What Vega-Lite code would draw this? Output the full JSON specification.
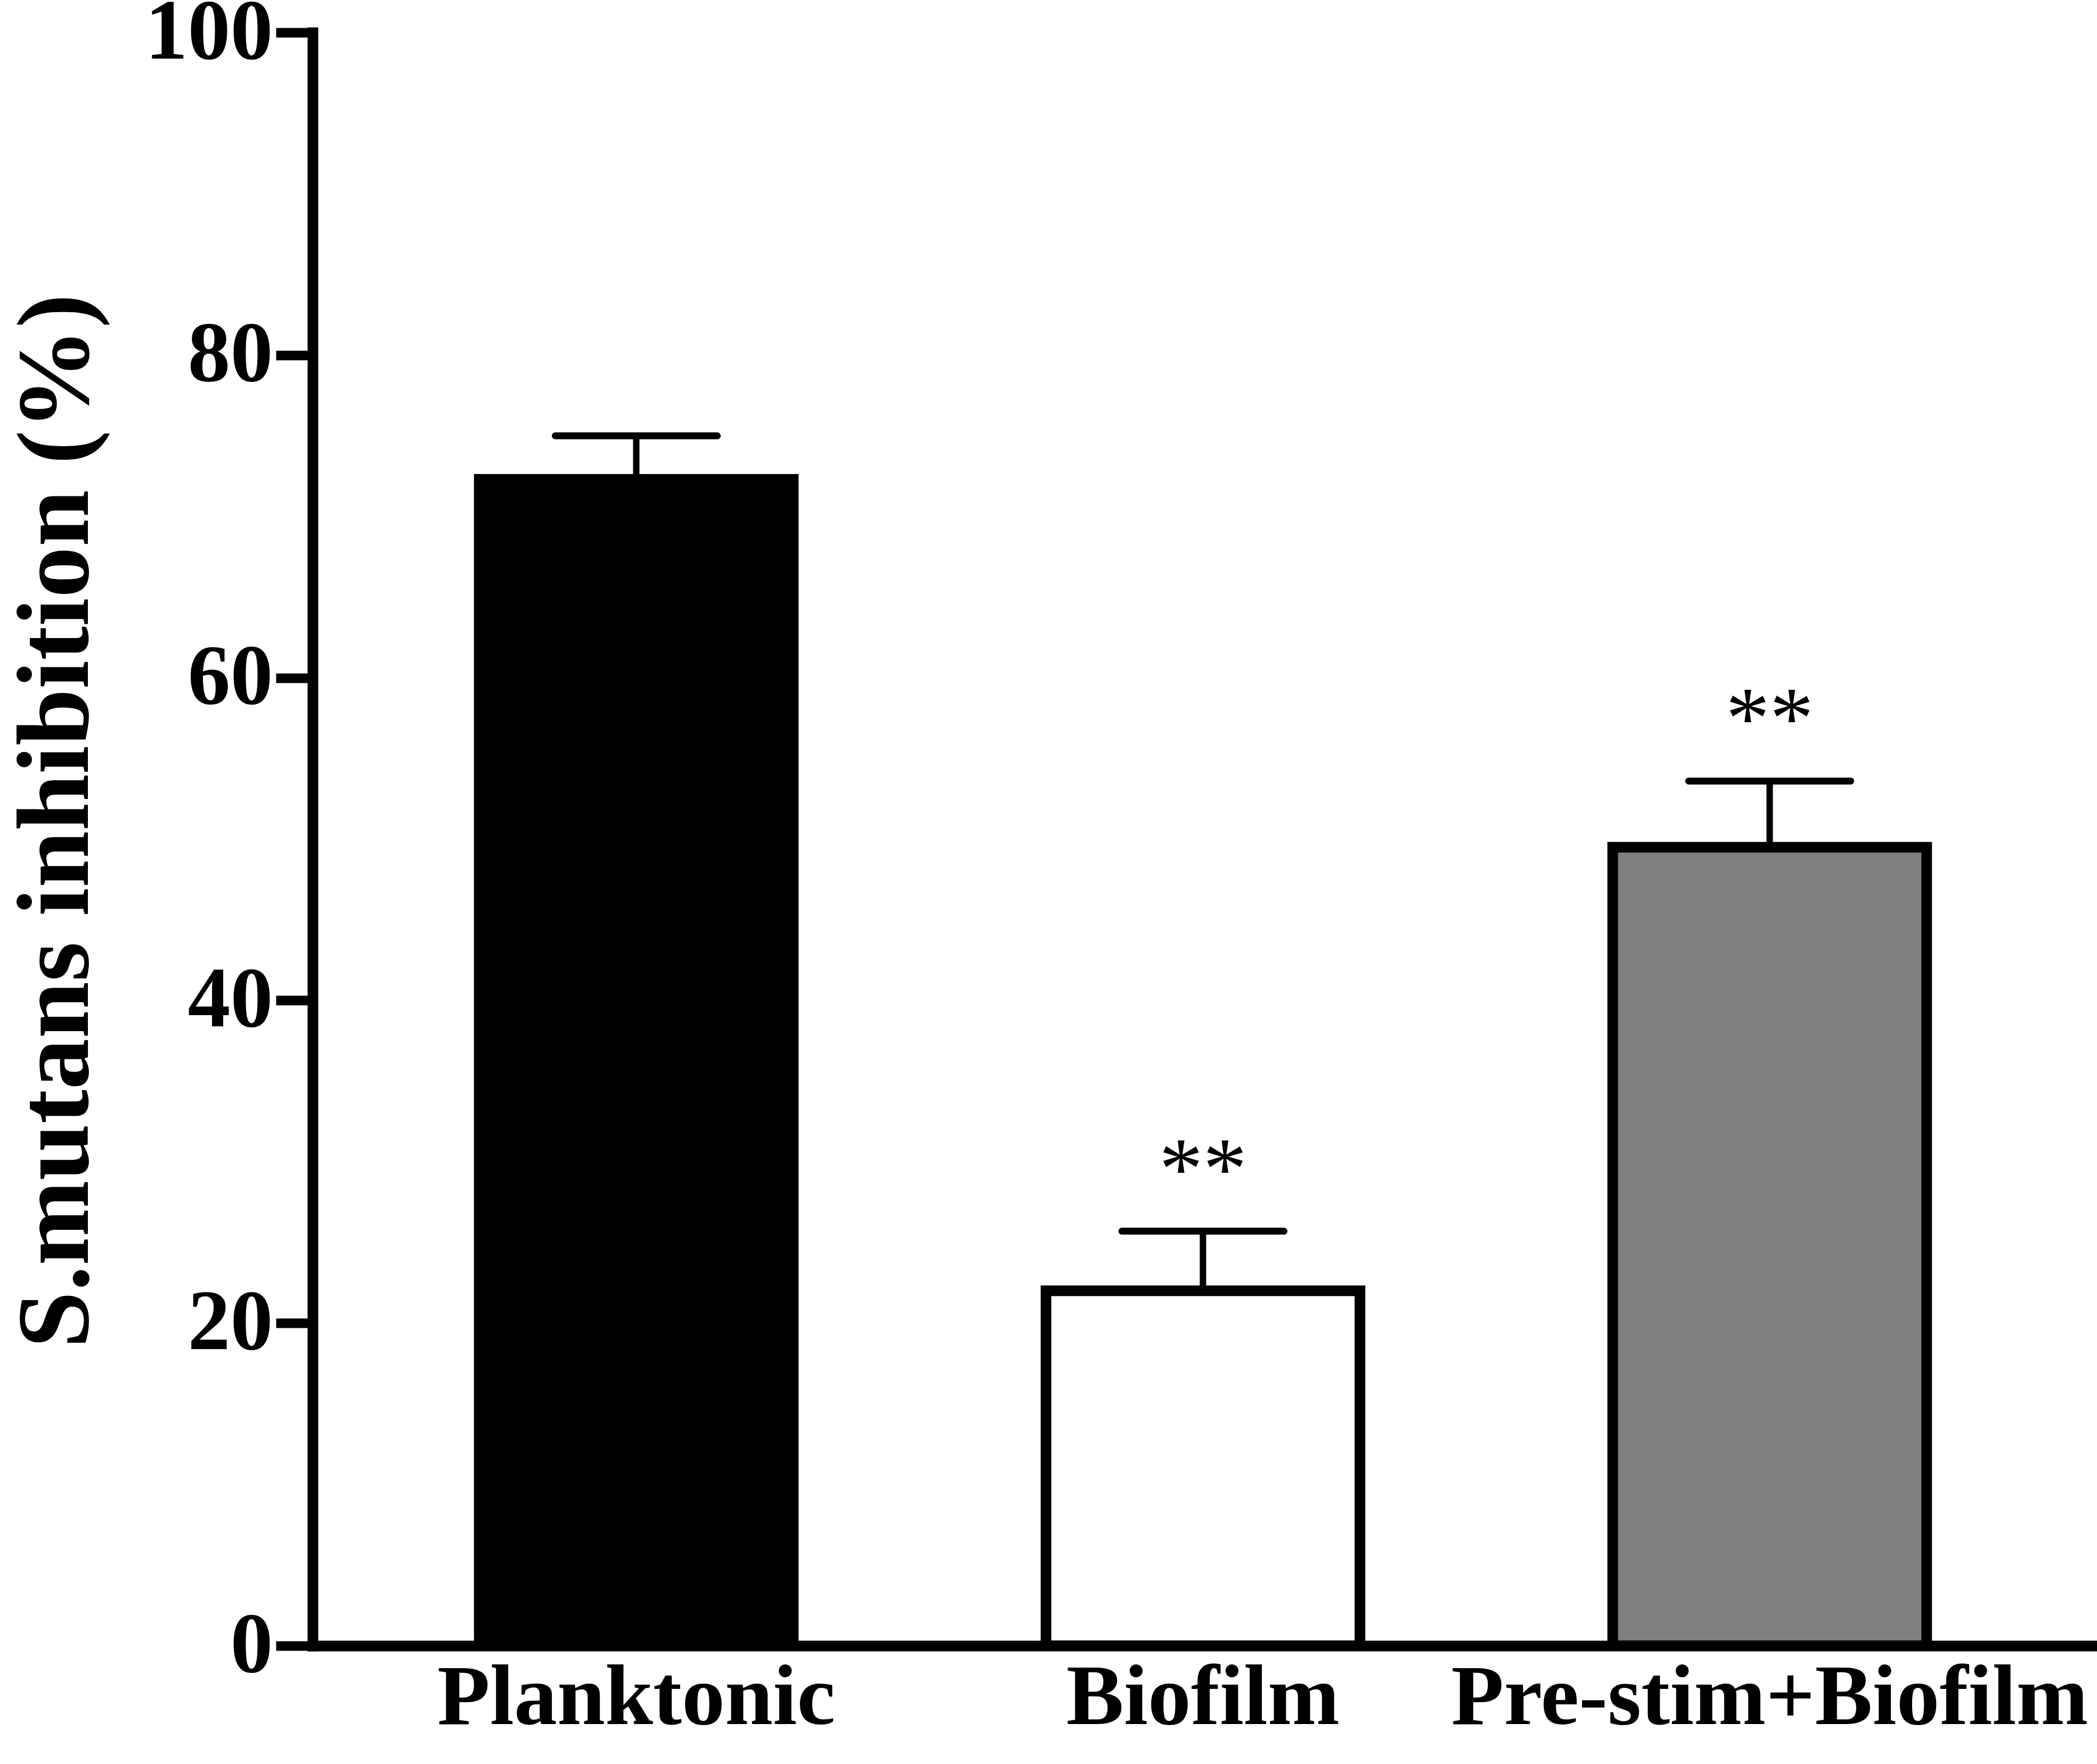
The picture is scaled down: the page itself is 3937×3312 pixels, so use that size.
{
  "$schema": "https://vega.github.io/schema/vega-lite/v6.json",
  "width": 3343,
  "height": 3029,
  "autosize": {"type": "none"},
  "padding": {"left": 587, "top": 61, "right": 7, "bottom": 222},
  "background": "white",
  "data": {
    "values": [
      {"group": "Planktonic", "mean": 72.3, "hi": 75.0, "star": ""},
      {"group": "Biofilm", "mean": 22.0, "hi": 25.7, "star": "**"},
      {"group": "Pre-stim+Biofilm", "mean": 49.5, "hi": 53.6, "star": "**"}
    ]
  },
  "encoding": {
    "x": {
      "field": "group",
      "type": "nominal",
      "sort": null,
      "scale": {"paddingInner": 0.446, "paddingOuter": 0.294},
      "axis": {
        "title": null,
        "labelAngle": 0,
        "ticks": false,
        "tickSize": 0,
        "labelPadding": 18,
        "labelLimit": 0,
        "labelFont": "Liberation Serif",
        "labelFontWeight": "bold",
        "labelFontSize": 162,
        "labelColor": "black",
        "domainColor": "black",
        "domainWidth": 20,
        "domainCap": "square",
        "grid": false
      }
    }
  },
  "layer": [
    {
      "mark": {"type": "bar", "stroke": "black", "strokeWidth": 20},
      "encoding": {
        "y": {
          "field": "mean",
          "type": "quantitative",
          "scale": {"domain": [0, 100], "nice": false},
          "axis": {
            "values": [0, 20, 40, 60, 80, 100],
            "title": "S.mutans inhibition (%)",
            "titleFont": "Liberation Serif",
            "titleFontWeight": "bold",
            "titleFontSize": 192,
            "titleColor": "black",
            "titleLimit": 0,
            "titleAngle": 270,
            "titleAlign": "center",
            "titleBaseline": "alphabetic",
            "titleX": -423,
            "titleY": 1480,
            "labelFont": "Liberation Serif",
            "labelFontWeight": "bold",
            "labelFontSize": 160,
            "labelColor": "black",
            "labelLimit": 0,
            "labelPadding": 6,
            "tickSize": 69,
            "tickWidth": 18,
            "tickColor": "black",
            "domainColor": "black",
            "domainWidth": 20,
            "domainCap": "square",
            "grid": false
          }
        },
        "fill": {
          "field": "group",
          "type": "nominal",
          "scale": {
            "domain": ["Planktonic", "Biofilm", "Pre-stim+Biofilm"],
            "range": ["#000000", "#ffffff", "#808080"]
          },
          "legend": null
        }
      }
    },
    {
      "mark": {"type": "rule", "color": "black", "strokeWidth": 12},
      "encoding": {
        "y": {"field": "mean", "type": "quantitative"},
        "y2": {"field": "hi"}
      }
    },
    {
      "mark": {"type": "rule", "color": "black", "strokeWidth": 13, "strokeCap": "round"},
      "encoding": {
        "x": {"field": "group", "type": "nominal", "sort": null, "bandPosition": 0.242},
        "x2": {"field": "group", "bandPosition": 0.758},
        "y": {"field": "hi", "type": "quantitative"}
      }
    },
    {
      "mark": {
        "type": "text",
        "font": "Liberation Serif",
        "fontSize": 165,
        "color": "black",
        "baseline": "alphabetic",
        "align": "center",
        "dy": -62
      },
      "encoding": {
        "y": {"field": "hi", "type": "quantitative"},
        "text": {"field": "star"}
      }
    }
  ],
  "config": {"view": {"stroke": null}}
}
